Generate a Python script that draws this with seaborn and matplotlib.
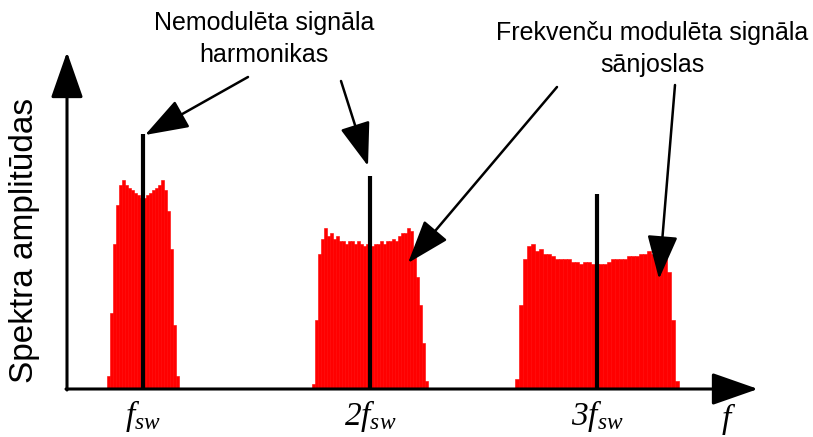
import numpy as np
import pandas as pd
import matplotlib
matplotlib.use('Agg')
from matplotlib import pyplot as plt
import seaborn as sns

# harmonikas (f_sw daudzkārtņi) un to amplitūdas, % no 1. harmonikas
harm_order = [1, 2, 3]
harm_amp = [100, 83.5, 76.5]

# sānjoslu robežas (f / f_sw) un aploces amplitūdas (%)
band_lo = [0.846, 1.749, 2.648]
band_hi = [1.150, 2.251, 3.352]
band1_amp = [5, 30, 57, 72, 80, 82, 80, 79, 78, 77, 76, 75,
             75, 76, 77, 78, 79, 80, 82, 78, 70, 55, 25, 5]
band2_amp = [2, 27, 53, 59, 63, 60, 61, 59, 60, 58, 58, 57, 58,
             58, 57, 58, 57, 56, 57, 57, 56, 57, 57, 58, 57, 58,
             58, 59, 58, 60, 61, 61, 63, 62, 55, 44, 33, 18, 3]
band3_amp = [4, 33, 51, 56, 57, 54, 55, 53, 53, 52, 51, 51, 51, 51,
             50, 50, 49, 50, 50, 49, 49, 49, 49, 50, 51, 51, 51, 51,
             52, 52, 52, 53, 53, 54, 53, 53, 53, 51, 46, 27, 3]
bands = [band1_amp, band2_amp, band3_amp]

tick_labels = [r'$f_{sw}$', r'$2f_{sw}$', r'$3f_{sw}$']
ylabel = 'Spektra amplitūdas'
note_harm = 'Nemodulēta signāla\nharmonikas'
note_side = 'Frekvenču modulēta signāla\nsānjoslas'

W, H = 813, 437
PX_F1, PX_PER_F = 143, 227      # pikseļa x pie f_sw, pikseļi uz f_sw
BASE_PX, PX_PER_UNIT = 389, 2.55


def pt(px, py):
    # attēla pikseļi -> datu koordinātes
    return 1 + (px - PX_F1) / PX_PER_F, (BASE_PX - py) / PX_PER_UNIT


sns.set_theme(style='white')
plt.rcParams['font.family'] = ['Liberation Sans', 'DejaVu Sans']
plt.rcParams['text.color'] = 'black'
plt.rcParams['mathtext.fontset'] = 'custom'
plt.rcParams['mathtext.it'] = 'Liberation Serif:italic'
plt.rcParams['mathtext.rm'] = 'Liberation Serif:italic'

fig = plt.figure(figsize=(W / 100, H / 100), dpi=100)
ax = fig.add_axes([0, 0, 1, 1])

# sānjoslas
for lo, hi, amp in zip(band_lo, band_hi, bands):
    n = len(amp)
    step = (hi - lo) / (n - 1)
    df = pd.DataFrame({'f': np.linspace(lo, hi, n), 'amp': amp})
    edges = list(np.linspace(lo - step / 2, hi + step / 2, n + 1))
    sns.histplot(data=df, x='f', weights='amp', bins=edges, color='red',
                 alpha=1, edgecolor='red', linewidth=0.4, ax=ax)

# harmonikas
ax.vlines(harm_order, 0, harm_amp, color='black', lw=3, zorder=3)

ax.set_xlim(pt(0, 0)[0], pt(W, 0)[0])
ax.set_ylim(pt(0, H)[1], pt(0, 0)[1])
ax.axis('off')

# asis ar bultām
axis_kw = dict(arrowstyle='-|>,head_length=0.4,head_width=0.14',
               mutation_scale=72, color='black', lw=2.2,
               shrinkA=0, shrinkB=0)
ax.annotate('', xy=pt(67, 52), xytext=pt(67, 390), arrowprops=axis_kw)
ax.annotate('', xy=pt(758, 389), xytext=pt(66, 389), arrowprops=axis_kw)

# norādes bultas
note_kw = dict(arrowstyle='-|>,head_length=0.4,head_width=0.14',
               mutation_scale=68, color='black', lw=1.8,
               shrinkA=0, shrinkB=0)
arrows = [((248, 77), (145, 135)), ((341, 81), (368, 166)),
          ((557, 87), (408, 263)), ((675, 85), (659, 279))]
for start, tip in arrows:
    ax.annotate('', xy=pt(*tip), xytext=pt(*start), arrowprops=note_kw)

# baseline = pēdējās rindas bāzes līnija
ax.text(*pt(264, 62), note_harm, ha='center', va='baseline',
        ma='center', fontsize=18, linespacing=1.4)
ax.text(*pt(652, 72), note_side, ha='center', va='baseline',
        ma='center', fontsize=18, linespacing=1.4)
ax.text(*pt(24, 240), ylabel, rotation=90, ha='center', va='center',
        fontsize=24)

# f_sw iezīmes
y_lab = pt(0, 425)[1]
for k, lab in zip(harm_order, tick_labels):
    ax.text(k, y_lab, lab, ha='center', va='baseline', fontsize=24)
ax.text(*pt(729, 428), r'$f$', ha='center', va='baseline', fontsize=24)

plt.savefig('out.png', dpi=100)
